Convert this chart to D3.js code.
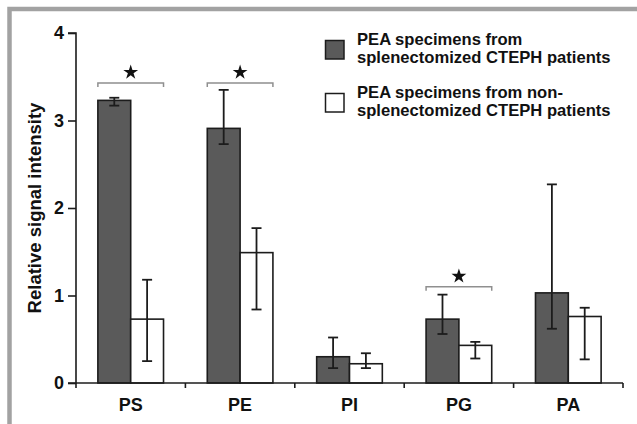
<!DOCTYPE html>
<html>
<head>
<meta charset="utf-8">
<script src="https://cdn.jsdelivr.net/npm/d3@7"></script>
<style>
  html, body { margin: 0; padding: 0; background: #fff; }
  svg { display: block; }
  text { font-family: "Liberation Sans", Arial, Helvetica, sans-serif; font-weight: bold; fill: #111; }
</style>
</head>
<body>
<svg id="chart" width="637" height="424"></svg>
<script>
// Phosphatidyl lipid signal per group
const categories = ["PS", "PE", "PI", "PG", "PA"];
const seriesNames = [
  ["PEA specimens from", "splenectomized CTEPH patients"],
  ["PEA specimens from non-", "splenectomized CTEPH patients"]
];
const splenMean = [3.23, 2.91, 0.30, 0.73, 1.03];
const splenLow  = [3.17, 2.73, 0.17, 0.56, 0.62];
const splenHigh = [3.26, 3.35, 0.52, 1.01, 2.27];
const nonMean   = [0.73, 1.49, 0.22, 0.43, 0.76];
const nonLow    = [0.25, 0.84, 0.17, 0.28, 0.27];
const nonHigh   = [1.18, 1.77, 0.34, 0.47, 0.86];
// Significant comparisons: category and bracket height
const sigCats   = ["PS", "PE", "PG"];
const sigLevels = [3.43, 3.43, 1.10];
const yTicks = [0, 1, 2, 3, 4];

const svg = d3.select("#chart");
const dark = "#5a5a5a", ink = "#1c1c1c", bracketGray = "#8f8f8f";

// Panel frame
svg.append("rect")
  .attr("x", 9.5).attr("y", 9).attr("width", 700).attr("height", 500)
  .attr("fill", "none").attr("stroke", "#a2a2a2").attr("stroke-width", 4.5);

const plotLeft = 76, plotRight = 623, plotTop = 33, plotBottom = 383;
const x = d3.scaleBand().domain(categories).range([plotLeft, plotRight]).paddingInner(0).paddingOuter(0);
const groupFrac = 0.6;
const x1 = d3.scaleBand().domain([0, 1])
  .range([0, x.bandwidth() * groupFrac]);
const groupOffset = x.bandwidth() * (1 - groupFrac) / 2;
const y = d3.scaleLinear().domain([0, 4]).range([plotBottom, plotTop]);

const series = [
  { mean: splenMean, low: splenLow, high: splenHigh, fill: dark },
  { mean: nonMean, low: nonLow, high: nonHigh, fill: "#ffffff" }
];

const g = svg.append("g");

// Bars
series.forEach((s, si) => {
  g.selectAll(null).data(categories).enter().append("rect")
    .attr("x", c => x(c) + groupOffset + x1(si))
    .attr("y", (c, i) => y(s.mean[i]))
    .attr("width", x1.bandwidth())
    .attr("height", (c, i) => y(0) - y(s.mean[i]))
    .attr("fill", s.fill)
    .attr("stroke", ink).attr("stroke-width", 1.6);
});

// Error bars
const capW = 10;
series.forEach((s, si) => {
  categories.forEach((c, i) => {
    const cx = x(c) + groupOffset + x1(si) + x1.bandwidth() / 2;
    const eg = g.append("g").attr("stroke", ink).attr("stroke-width", 1.8);
    eg.append("line").attr("x1", cx).attr("x2", cx).attr("y1", y(s.low[i])).attr("y2", y(s.high[i]));
    [s.low[i], s.high[i]].forEach(v => {
      eg.append("line").attr("x1", cx - capW / 2).attr("x2", cx + capW / 2)
        .attr("y1", y(v)).attr("y2", y(v));
    });
  });
});

// Significance brackets and stars
sigCats.forEach((c, k) => {
  const x0 = x(c) + groupOffset, xe = x0 + x1.bandwidth() * 2;
  const yb = y(sigLevels[k]);
  svg.append("path")
    .attr("d", `M${x0},${yb + 4}V${yb}H${xe}V${yb + 4}`)
    .attr("fill", "none").attr("stroke", bracketGray).attr("stroke-width", 1.5);
  svg.append("path")
    .attr("d", d3.symbol(d3.symbolStar, 68)())
    .attr("transform", `translate(${(x0 + xe) / 2},${yb - 10.5})`)
    .attr("fill", "#111");
});

// Axes
const yAxis = svg.append("g")
  .attr("transform", `translate(${plotLeft},0)`)
  .call(d3.axisLeft(y).tickValues(yTicks).tickFormat(d3.format("d")).tickSize(8).tickPadding(4));
const xAxis = svg.append("g")
  .attr("transform", `translate(0,${plotBottom})`)
  .call(d3.axisBottom(x).tickSize(0).tickPadding(15));

// Bottom axis ticks sit on the category boundaries
xAxis.selectAll(".boundary").data(d3.range(categories.length + 1)).enter().append("line")
  .attr("class", "boundary")
  .attr("x1", i => plotLeft + i * x.bandwidth()).attr("x2", i => plotLeft + i * x.bandwidth())
  .attr("y1", 0).attr("y2", 5);

[yAxis, xAxis].forEach(a => {
  a.select(".domain").attr("stroke", ink).attr("stroke-width", 1.6);
  a.selectAll("line").attr("stroke", ink).attr("stroke-width", 1.6);
  a.selectAll("text").style("font-size", "18px").attr("fill", "#111")
    .style("font-family", "'Liberation Sans', Arial, sans-serif").style("font-weight", "bold");
});
yAxis.select(".domain").attr("d", `M-8,${y(4)}H0V${y(0)}H-8`);
xAxis.select(".domain").attr("d", `M${plotLeft},0H${plotRight}`);

// Y axis title
svg.append("text")
  .attr("transform", `translate(41,208) rotate(-90)`)
  .attr("text-anchor", "middle")
  .style("font-size", "18.5px")
  .text("Relative signal intensity");

// Legend
const legend = svg.append("g");
const legendRows = [40, 93];
seriesNames.forEach((lines, i) => {
  legend.append("rect")
    .attr("x", 325.5).attr("y", legendRows[i] + 0.5).attr("width", 18.5).attr("height", 18.5)
    .attr("fill", series[i].fill).attr("stroke", ink).attr("stroke-width", 1.5);
  lines.forEach((t, j) => {
    legend.append("text")
      .attr("x", 357).attr("y", legendRows[i] + 5 + j * 17.7)
      .style("font-size", "16.6px")
      .text(t);
  });
});
</script>
</body>
</html>
